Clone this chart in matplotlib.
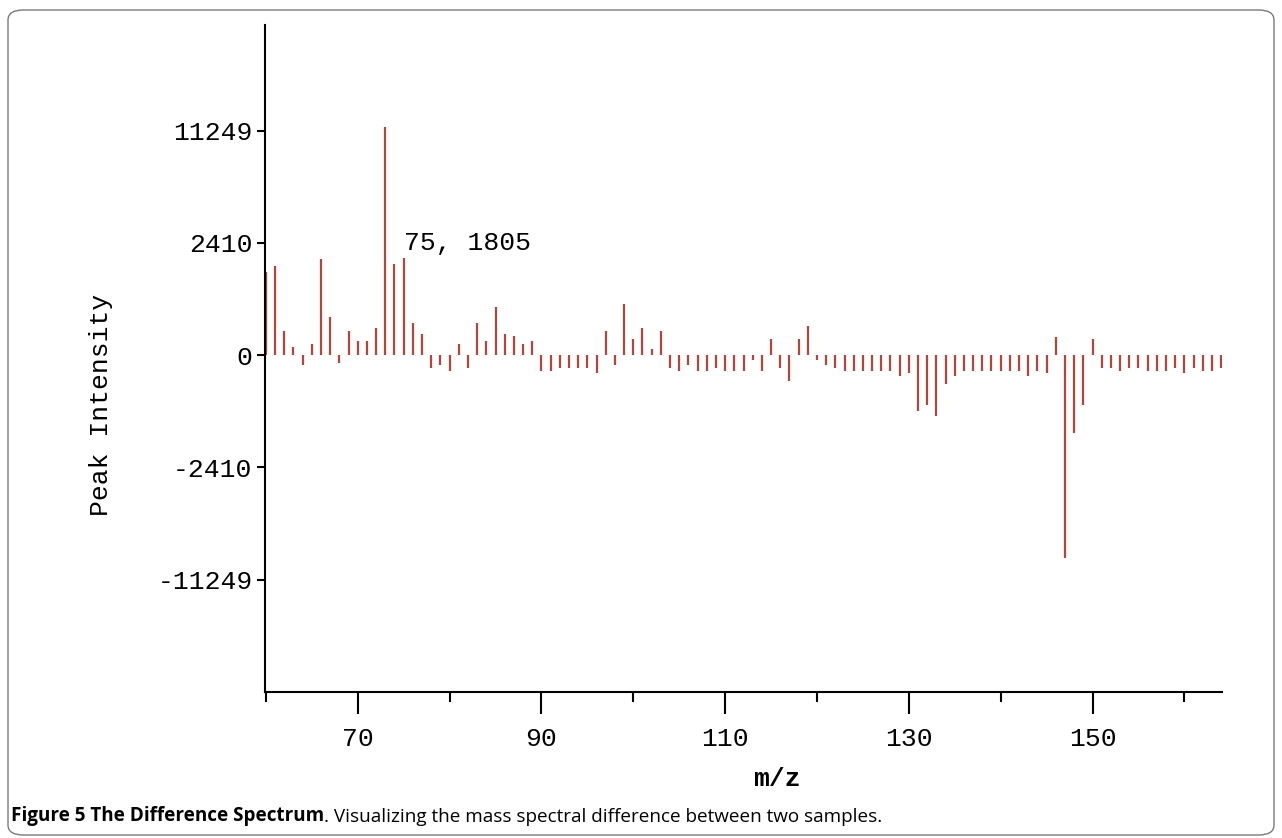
import numpy as np
import matplotlib
matplotlib.use("Agg")
import matplotlib.pyplot as plt
from matplotlib.patches import FancyBboxPatch

# ---------------- data ----------------
mz = list(range(60, 165))
intensity = [
    1317, 1505, 115, 14, -20, 22, 1778, 275, -11, 115,      # 60-69
    37, 37, 138, 11600, 1598, 1805, 203, 89, -31, -20,      # 70-79
    -46, 22, -31, 203, 37, 452, 89, 71, 24, 37,             # 80-89
    -46, -46, -31, -31, -31, -31, -64, 115, -20, 504,       # 90-99
    51, 138, 7, 115, -31, -46, -20, -46, -46, -31,          # 100-109
    -46, -46, -46, -5, -46, 51, -31, -132, 51, 167,         # 110-119
    -5, -20, -31, -46, -46, -46, -46, -46, -46, -83,        # 120-129
    -64, -592, -484, -710, -159, -83, -46, -46, -46, -46,   # 130-139
    -46, -46, -46, -83, -46, -64, 66, -9015, -1145, -484,   # 140-149
    50, -31, -31, -46, -31, -31, -46, -46, -46, -31,        # 150-159
    -64, -31, -46, -46, -31,                                # 160-164
]
ytick_values = [-11249, -2410, 0, 2410, 11249]
ytick_labels = ["-11249", "-2410", "0", "2410", "11249"]
xtick_major = [70, 90, 110, 130, 150]
xtick_minor = [60, 80, 100, 120, 140, 160]
annot_mz, annot_val = 75, 1805

# ---------------- scale ----------------
S1 = np.sqrt(2410.0)
S2 = np.sqrt(11249.0)


def fwd(v):
    v = np.asarray(v, dtype=float)
    r = np.sqrt(np.abs(v))
    u = np.where(r <= S1, r / S1, 1.0 + (r - S1) / (S2 - S1))
    return np.sign(v) * u


def inv(u):
    u = np.asarray(u, dtype=float)
    a = np.abs(u)
    r = np.where(a <= 1.0, a * S1, S1 + (a - 1.0) * (S2 - S1))
    return np.sign(u) * r ** 2


W, H = 1282, 838
fig = plt.figure(figsize=(W / 100, H / 100), dpi=100)

# border
border = FancyBboxPatch((8 / W, 3 / H), 1266 / W, 825 / H,
                        boxstyle="round,pad=0,rounding_size=0.012",
                        transform=fig.transFigure, fill=False,
                        edgecolor="#7a7a7a", linewidth=1.0)
fig.patches.append(border)

ax = fig.add_axes([265 / W, (H - 692) / H, (1222 - 265) / W, (692 - 25) / H])
ax.set_yscale("function", functions=(fwd, inv))

ax.vlines(mz, 0, intensity, colors="#b0463d", linewidth=1.6)

ax.set_xlim(59.9, 164.1)
ax.set_ylim(float(inv(-3.0)), float(inv(2.94)))

mono = "Liberation Mono"
FS = 19
ax.set_yticks(ytick_values)
ax.set_yticklabels(ytick_labels, fontfamily=mono, fontsize=FS)
ax.set_xticks(xtick_major)
ax.set_xticklabels([str(t) for t in xtick_major], fontfamily=mono, fontsize=FS)
ax.set_xticks(xtick_minor, minor=True)
ax.yaxis.set_minor_locator(matplotlib.ticker.NullLocator())

ax.tick_params(axis="y", which="major", length=6, width=1.5, pad=3)
ax.tick_params(axis="x", which="major", length=16, width=1.5, pad=9)
ax.tick_params(axis="x", which="minor", length=7, width=1.5)

for s in ["top", "right"]:
    ax.spines[s].set_visible(False)
for s in ["left", "bottom"]:
    ax.spines[s].set_linewidth(1.5)

ax.set_ylabel("Peak Intensity", fontfamily=mono, fontsize=FS)
ax.yaxis.set_label_coords(-0.159, 0.43)
ax.set_xlabel("m/z", fontfamily=mono, fontsize=FS, fontweight="bold")
ax.xaxis.set_label_coords(0.535, -0.112)

ax.text(annot_mz, 2410, f"{annot_mz}, {annot_val}", fontfamily=mono,
        fontsize=FS, ha="left", va="center")

# caption
t1 = fig.text(11 / W, (H - 821) / H, "Figure 5 The Difference Spectrum",
              fontfamily="Open Sans", fontweight="bold", fontsize=13.6,
              ha="left", va="baseline")
ax.annotate(". Visualizing the mass spectral difference between two samples.",
            xy=(1, 0), xycoords=t1, xytext=(0, 0), textcoords="offset points",
            fontfamily="Open Sans", fontsize=13.6, ha="left", va="bottom",
            annotation_clip=False)

fig.savefig("out.png", dpi=100)
